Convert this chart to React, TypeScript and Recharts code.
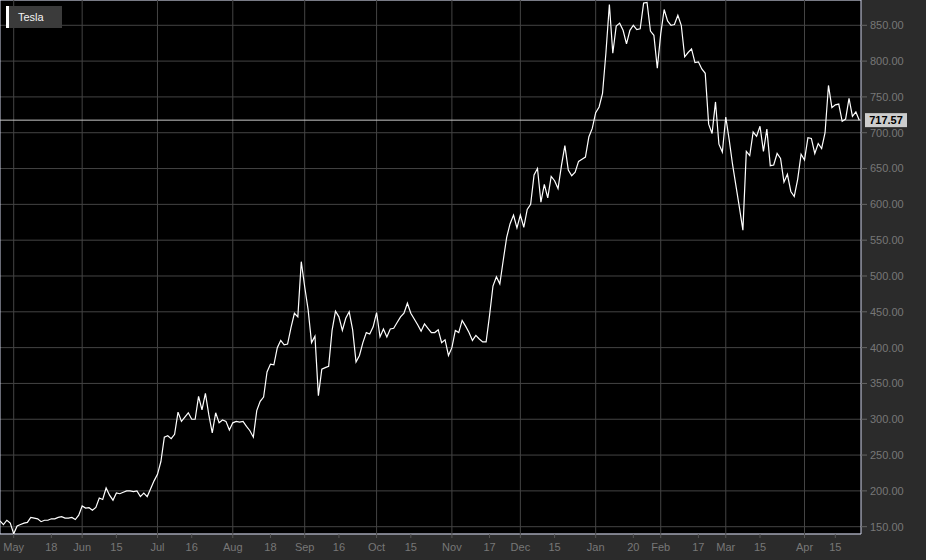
import React from "react";
import {
  LineChart,
  Line,
  XAxis,
  YAxis,
  CartesianGrid,
  ReferenceLine,
  ReferenceArea,
} from "recharts";

// daily closes, split-adjusted (Apr 27 2020 .. Apr 26 2021)
const CLOSE_LATE_APR_MAY = [
  158, 153, 159, 155, 140, 151, 153, 155, 156, 163, 162, 161, 157, 159, 159, 161,
  161, 163, 164, 162, 162, 163, 160, 166,
];
const CLOSE_JUN = [
  179, 176, 176.5, 173, 177, 190, 188, 204, 194, 187, 197, 196, 198, 200, 200, 199,
  200, 192, 197, 192, 203, 214,
];
const CLOSE_JUL = [
  223, 241, 275, 277, 273, 279, 310, 297, 303, 309, 300, 300, 332, 313, 336, 306,
  281, 309, 295, 299, 297, 285,
];
const CLOSE_AUG = [
  295, 297, 296, 297, 290, 284, 275, 312, 325, 331, 366, 377, 376, 400, 410, 404,
  405, 428, 448, 443, 520,
];
const CLOSE_SEP = [
  485, 453, 407, 416, 333, 370, 372, 374, 424, 451, 443, 424, 441, 450, 425, 380,
  389, 407, 421, 419, 429,
];
const CLOSE_OCT = [
  449, 415, 426, 415, 426, 427, 435, 443, 448, 462, 448, 440, 432, 423, 433, 427,
  421, 421, 425, 407, 411, 389,
];
const CLOSE_NOV = [
  400, 424, 421, 438, 430, 421, 410, 417, 412, 408, 408, 445, 486, 499, 489, 522,
  554, 573, 585, 567,
];
const CLOSE_DEC = [
  585, 568, 593, 600, 641, 650, 603, 628, 609, 639, 633, 622, 654, 682, 648, 640,
  645, 660, 663, 666, 694, 706,
];
const CLOSE_JAN = [
  728, 736, 755, 812, 879, 811, 849, 853, 843, 824, 843, 850, 844, 845, 881, 882,
  842, 836, 790,
];
const CLOSE_FEB = [
  838, 872, 856, 850, 851, 864, 850, 806, 812, 817, 798, 799, 789, 783, 712, 699,
  743, 684, 673,
];
const CLOSE_MAR = [
  722, 690, 655, 625, 595, 564, 674, 668, 701, 695, 709, 674, 705, 654, 655, 671,
  664, 631, 642, 618, 611, 635, 670,
];
const CLOSE_APR = [
  662, 693, 692, 671, 685, 678, 700, 766, 735, 739, 740, 716, 719, 748, 723, 729,
  717.57,
];

const CLOSES = [
  ...CLOSE_LATE_APR_MAY, ...CLOSE_JUN, ...CLOSE_JUL, ...CLOSE_AUG, ...CLOSE_SEP,
  ...CLOSE_OCT, ...CLOSE_NOV, ...CLOSE_DEC, ...CLOSE_JAN, ...CLOSE_FEB,
  ...CLOSE_MAR, ...CLOSE_APR,
];

const START_DATE = "2020-04-27";
const HOLIDAYS = [
  "2020-05-25", "2020-07-03", "2020-09-07", "2020-11-26", "2020-12-25",
  "2021-01-01", "2021-01-18", "2021-02-15", "2021-04-02",
];

const TICK_DATES = [
  "2020-05-01", "2020-05-18", "2020-06-01", "2020-06-15", "2020-07-01", "2020-07-16",
  "2020-08-03", "2020-08-18", "2020-09-01", "2020-09-16", "2020-10-01", "2020-10-15",
  "2020-11-02", "2020-11-17", "2020-12-01", "2020-12-15", "2021-01-04", "2021-01-20",
  "2021-02-01", "2021-02-17", "2021-03-01", "2021-03-15", "2021-04-01", "2021-04-15",
];
const TICK_LABELS = [
  "May", "18", "Jun", "15", "Jul", "16", "Aug", "18", "Sep", "16", "Oct", "15",
  "Nov", "17", "Dec", "15", "Jan", "20", "Feb", "17", "Mar", "15", "Apr", "15",
];

const PRICE_TICKS = [150, 200, 250, 300, 350, 400, 450, 500, 550, 600, 650, 700, 750, 800, 850];

function tradingDays(n: number) {
  const out: string[] = [];
  const d = new Date(START_DATE + "T00:00:00Z");
  while (out.length < n) {
    const dow = d.getUTCDay();
    const s = d.toISOString().slice(0, 10);
    if (dow !== 0 && dow !== 6 && !HOLIDAYS.includes(s)) out.push(s);
    d.setUTCDate(d.getUTCDate() + 1);
  }
  return out;
}

const DAYS = tradingDays(CLOSES.length);
const data = CLOSES.map((c, i) => ({ i, date: DAYS[i], close: c }));
const tickIdx = TICK_DATES.map((t) => DAYS.indexOf(t));
const monthIdx = tickIdx.filter((_, k) => isNaN(Number(TICK_LABELS[k])));
const LAST = CLOSES[CLOSES.length - 1];

const FONT = "'Liberation Sans', Arial, Helvetica, sans-serif";
const Y_MIN = 139.8;
const Y_MAX = 885.3;
const X_MAX = 251.5;

function LastLabel(props: any) {
  const { viewBox } = props;
  const x = viewBox.x + viewBox.width + 4;
  const y = viewBox.y;
  return (
    <g>
      <rect x={x} y={y - 7} width={42} height={14} fill="#cdcdcd" />
      <text
        x={x + 21}
        y={y}
        dy={4}
        textAnchor="middle"
        fontFamily={FONT}
        fontSize={11}
        fontWeight="bold"
        fill="#000"
      >
        {LAST.toFixed(2)}
      </text>
    </g>
  );
}

export default function App() {
  return (
    <div
      style={{
        position: "absolute",
        left: 0,
        top: 0,
        width: 926,
        height: 560,
        background: "#2b2b2b",
        fontFamily: FONT,
      }}
    >
      <LineChart
        width={926}
        height={560}
        data={data}
        margin={{ top: 0, right: 0, bottom: 0, left: 0 }}
      >
        <CartesianGrid vertical={false} stroke="#444" fill="#000" fillOpacity={1} />
        {monthIdx.map((m) => (
          <ReferenceLine key={m} x={m} stroke="#444" strokeWidth={1} />
        ))}
        <XAxis
          dataKey="i"
          type="number"
          domain={[0, X_MAX]}
          allowDataOverflow
          ticks={tickIdx}
          interval={0}
          tickFormatter={(v: number) => TICK_LABELS[tickIdx.indexOf(v)] ?? ""}
          height={26}
          axisLine={false}
          tickLine={{ stroke: "#555" }}
          tickSize={4}
          tickMargin={5}
          tick={{ fill: "#777", fontSize: 11, fontFamily: FONT }}
        />
        <YAxis
          orientation="right"
          type="number"
          domain={[Y_MIN, Y_MAX]}
          allowDataOverflow
          ticks={PRICE_TICKS}
          interval={0}
          tickFormatter={(v: number) => v.toFixed(2)}
          width={65}
          axisLine={false}
          tickLine={{ stroke: "#666" }}
          tickSize={6}
          tickMargin={3}
          tick={{ fill: "#777", fontSize: 11, fontFamily: FONT }}
        />
        <ReferenceLine y={LAST} stroke="#c8c8c8" strokeWidth={1} label={<LastLabel />} />
        <Line
          type="linear"
          dataKey="close"
          stroke="#ffffff"
          strokeWidth={1.2}
          dot={false}
          activeDot={false}
          isAnimationActive={false}
        />
        <ReferenceArea
          x1={0}
          x2={X_MAX}
          y1={Y_MIN}
          y2={Y_MAX}
          fill="none"
          stroke="#cfd3ea"
          strokeWidth={1}
          ifOverflow="visible"
        />
      </LineChart>
      <div
        style={{
          position: "absolute",
          left: 6,
          top: 6,
          width: 53,
          height: 22,
          background: "#3b3b3b",
          borderLeft: "3px solid #fff",
          color: "#f2f2f2",
          fontSize: 11,
          lineHeight: "22px",
          paddingLeft: 9,
          boxSizing: "border-box",
          width: 56,
        }}
      >
        Tesla
      </div>
    </div>
  );
}
